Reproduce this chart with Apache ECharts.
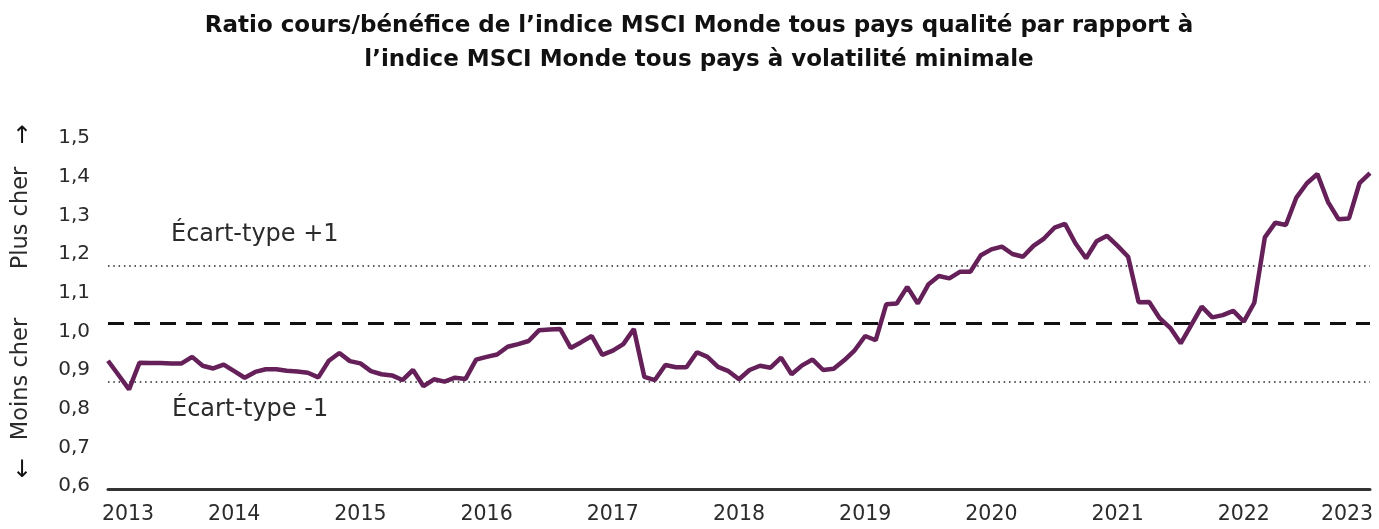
<!DOCTYPE html>
<html>
<head>
<meta charset="utf-8">
<script src="https://cdn.jsdelivr.net/npm/echarts@6/dist/echarts.min.js"></script>
<style>
html,body{margin:0;padding:0;background:#fff;}
#chart{width:1379px;height:529px;}
</style>
</head>
<body>
<div id="chart"></div>
<script>
// Monthly observations, January 2013 to January 2023
const years = ['2013','2014','2015','2016','2017','2018','2019','2020','2021','2022','2023'];
const months = [];
years.forEach(function (y, i) {
  const last = (i === years.length - 1) ? 1 : 12;
  for (let m = 1; m <= last; m++) months.push(y + '-' + (m < 10 ? '0' + m : m));
});

const ratio = [
  0.924, 0.887, 0.850, 0.919, 0.918, 0.918, 0.917, 0.917, 0.934, 0.911, 0.904, 0.914,
  0.897, 0.880, 0.895, 0.902, 0.902, 0.898, 0.896, 0.893, 0.881, 0.924, 0.944, 0.923,
  0.917, 0.897, 0.889, 0.886, 0.874, 0.900, 0.858, 0.876, 0.870, 0.880, 0.877, 0.927,
  0.934, 0.940, 0.960, 0.967, 0.975, 1.003, 1.005, 1.006, 0.957, 0.972, 0.988, 0.939,
  0.950, 0.967, 1.006, 0.882, 0.874, 0.913, 0.907, 0.907, 0.946, 0.934, 0.908, 0.897,
  0.876, 0.900, 0.911, 0.906, 0.932, 0.889, 0.912, 0.927, 0.900, 0.903, 0.925, 0.951,
  0.988, 0.977, 1.070, 1.072, 1.115, 1.072, 1.121, 1.143, 1.137, 1.154, 1.154, 1.197,
  1.212, 1.219, 1.200, 1.193, 1.221, 1.240, 1.268, 1.278, 1.227, 1.189, 1.233, 1.247,
  1.221, 1.193, 1.075, 1.076, 1.034, 1.009, 0.969, 1.016, 1.064, 1.036, 1.042, 1.053,
  1.025, 1.074, 1.243, 1.281, 1.275, 1.346, 1.383, 1.407, 1.335, 1.290, 1.292, 1.383,
  1.409
];

const meanLevel = 1.02;
const upperSd = 1.17;
const lowerSd = 0.874;
const yTicks = [0.6, 1.5, 0.1]; // min, max, interval

const titleText = 'Ratio cours/bénéfice de l’indice MSCI Monde tous pays qualité par rapport à\nl’indice MSCI Monde tous pays à volatilité minimale';
const FONT = '"DejaVu Sans", "Noto Sans", sans-serif';
const TXT = '#2b2b2b';

const chart = echarts.init(document.getElementById('chart'), null, {renderer: 'canvas'});

chart.setOption({
  backgroundColor: '#ffffff',
  animation: false,
  title: {
    text: titleText,
    left: 694,
    top: 4,
    textAlign: 'center',
    textStyle: {fontFamily: FONT, fontSize: 23, fontWeight: 700, color: '#111', lineHeight: 34}
  },
  grid: {left: 108, right: 9, top: 138, bottom: 43, containLabel: false},
  xAxis: {
    type: 'category',
    data: months,
    boundaryGap: false,
    offset: 3,
    axisLine: {show: true, lineStyle: {color: '#333', width: 3}},
    axisTick: {show: false},
    splitLine: {show: false},
    axisLabel: {
      interval: function (index) { return index % 12 === 0; },
      margin: 15,
      fontFamily: FONT,
      fontSize: 20.5,
      color: TXT,
      formatter: function (value, index) {
        const y = value.slice(0, 4);
        if (index === 0) return '{first|' + y + '}';
        if (index === months.length - 1) return '{last|' + y + '}';
        return y;
      },
      rich: {
        first: {fontFamily: FONT, fontSize: 20.5, color: TXT, padding: [0, 0, 0, 40]},
        last: {fontFamily: FONT, fontSize: 20.5, color: TXT, padding: [0, 46, 0, 0]}
      }
    }
  },
  yAxis: {
    type: 'value',
    min: yTicks[0],
    max: yTicks[1],
    interval: yTicks[2],
    axisLine: {show: false},
    axisTick: {show: false},
    splitLine: {show: false},
    axisLabel: {
      margin: 18,
      fontFamily: FONT,
      fontSize: 20,
      color: TXT,
      formatter: function (v) { return v.toFixed(1).replace('.', ','); }
    }
  },
  series: [{
    type: 'line',
    data: ratio,
    showSymbol: false,
    symbol: 'none',
    lineStyle: {color: '#65205A', width: 4.5},
    z: 3,
    markLine: {
      silent: true,
      symbol: 'none',
      z: 2,
      data: [
        {yAxis: meanLevel, lineStyle: {type: [16, 10], color: '#111', width: 3}, label: {show: false}},
        {yAxis: upperSd, lineStyle: {type: [1.5, 3.8], color: '#222', width: 1.5},
          label: {show: true, position: 'insideStartTop', distance: [63, 19], formatter: 'Écart-type +1',
            fontFamily: FONT, fontSize: 24, color: TXT}},
        {yAxis: lowerSd, lineStyle: {type: [1.5, 3.8], color: '#222', width: 1.5},
          label: {show: true, position: 'insideStartBottom', distance: [64, 16], formatter: 'Écart-type -1',
            fontFamily: FONT, fontSize: 24, color: TXT}}
      ]
    }
  }],
  graphic: [
    {type: 'text', x: 21, y: 218, rotation: Math.PI / 2,
      style: {text: 'Plus cher', font: '22.5px ' + FONT, fill: TXT, textAlign: 'center', textVerticalAlign: 'middle'}},
    {type: 'text', x: 21, y: 379, rotation: Math.PI / 2,
      style: {text: 'Moins cher', font: '22.5px ' + FONT, fill: TXT, textAlign: 'center', textVerticalAlign: 'middle'}},
    {type: 'text', x: 22, y: 137,
      style: {text: '↑', font: '24px "DejaVu Sans", sans-serif', fill: '#111', textAlign: 'center', textVerticalAlign: 'middle'}},
    {type: 'text', x: 22, y: 471,
      style: {text: '↓', font: '24px "DejaVu Sans", sans-serif', fill: '#111', textAlign: 'center', textVerticalAlign: 'middle'}}
  ]
});
</script>
</body>
</html>
